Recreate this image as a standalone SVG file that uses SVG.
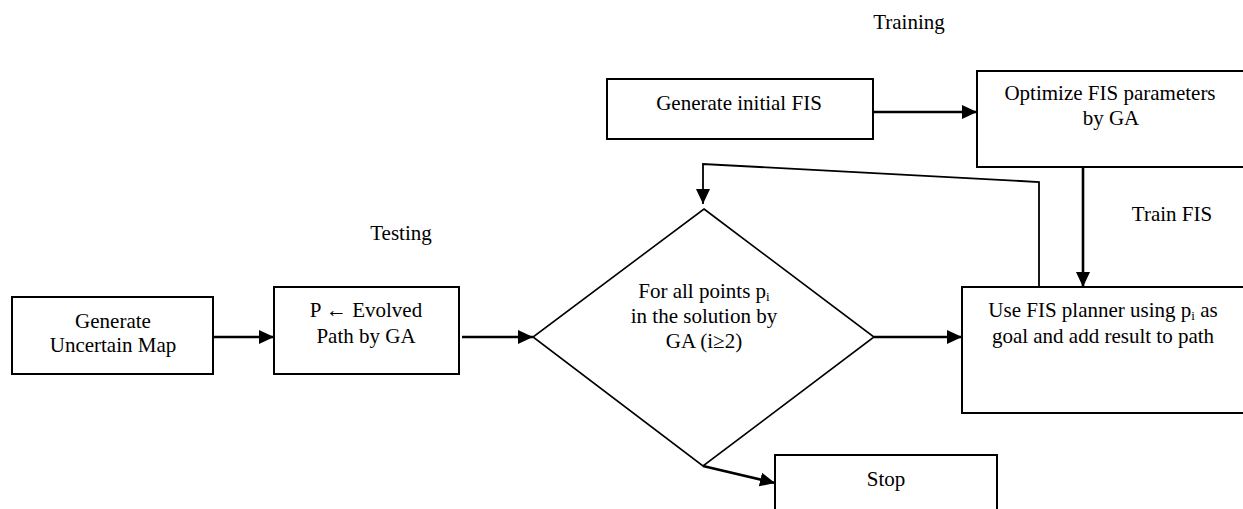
<svg xmlns="http://www.w3.org/2000/svg" width="1243" height="509" viewBox="0 0 1243 509">
<style>
  .box { fill: #fff; stroke: #000; stroke-width: 2; }
  .dia { fill: #fff; stroke: #000; stroke-width: 1.6; }
  .t { font-family: "Liberation Serif", "Times New Roman", serif; font-size: 21px; fill: #000; text-anchor: middle; }
  .c { fill: none; stroke: #000; stroke-width: 2.6; }
  .fb { fill: none; stroke: #000; stroke-width: 1.8; }
</style>
<defs>
  <marker id="ah" markerUnits="userSpaceOnUse" markerWidth="16" markerHeight="16" viewBox="0 0 16 16" refX="15" refY="8" orient="auto">
    <path d="M0,1 L15,8 L0,15 Z" fill="#000"/>
  </marker>
</defs>

<g id="label-training"><text class="t" x="909" y="29">Training</text></g>
<g id="label-testing"><text class="t" x="401" y="240">Testing</text></g>
<g id="label-train-fis"><text class="t" x="1172" y="221">Train FIS</text></g>

<g id="node-generate-fis">
  <rect class="box" x="607" y="79" width="266" height="60"/>
  <text class="t" x="739" y="110">Generate initial FIS</text>
</g>
<g id="node-optimize">
  <rect class="box" x="977" y="71" width="280" height="96"/>
  <text class="t" x="1110" y="100">Optimize FIS parameters</text>
  <text class="t" x="1111" y="125">by GA</text>
</g>
<g id="node-uncertain-map">
  <rect class="box" x="12" y="297" width="201" height="77"/>
  <text class="t" x="113" y="328">Generate</text>
  <text class="t" x="113" y="352">Uncertain Map</text>
</g>
<g id="node-evolved-path">
  <rect class="box" x="274" y="287" width="185" height="87"/>
  <text class="t" x="366" y="317">P ← Evolved</text>
  <text class="t" x="366" y="343">Path by GA</text>
</g>
<g id="node-decision">
  <polygon class="dia" points="704,209 874,337 703,466 533,337"/>
  <text class="t" x="704" y="298">For all points p<tspan font-size="13" dy="3">i</tspan></text>
  <text class="t" x="704" y="323">in the solution by</text>
  <text class="t" x="704" y="348">GA (i≥2)</text>
</g>
<g id="node-use-fis">
  <rect class="box" x="962" y="287" width="295" height="126"/>
  <text class="t" x="1103" y="317">Use FIS planner using p<tspan font-size="13" dy="3">i</tspan><tspan dy="-3"> as</tspan></text>
  <text class="t" x="1103" y="343">goal and add result to path</text>
</g>
<g id="node-stop">
  <rect class="box" x="775" y="455" width="222" height="70"/>
  <text class="t" x="886" y="486">Stop</text>
</g>

<g id="connectors">
  <line class="c" x1="213" y1="337" x2="274" y2="337" marker-end="url(#ah)"/>
  <line class="c" x1="462" y1="337" x2="533" y2="337" marker-end="url(#ah)"/>
  <line class="c" x1="874" y1="337" x2="962" y2="337" marker-end="url(#ah)"/>
  <line class="c" x1="873" y1="112" x2="977" y2="112" marker-end="url(#ah)"/>
  <line class="c" x1="1083" y1="167" x2="1083" y2="287" marker-end="url(#ah)"/>
  <polyline class="fb" points="1039,287 1039,182 703,164 703,204" marker-end="url(#ah)"/>
  <line class="c" x1="703" y1="466" x2="775" y2="483" marker-end="url(#ah)"/>
</g>
</svg>
